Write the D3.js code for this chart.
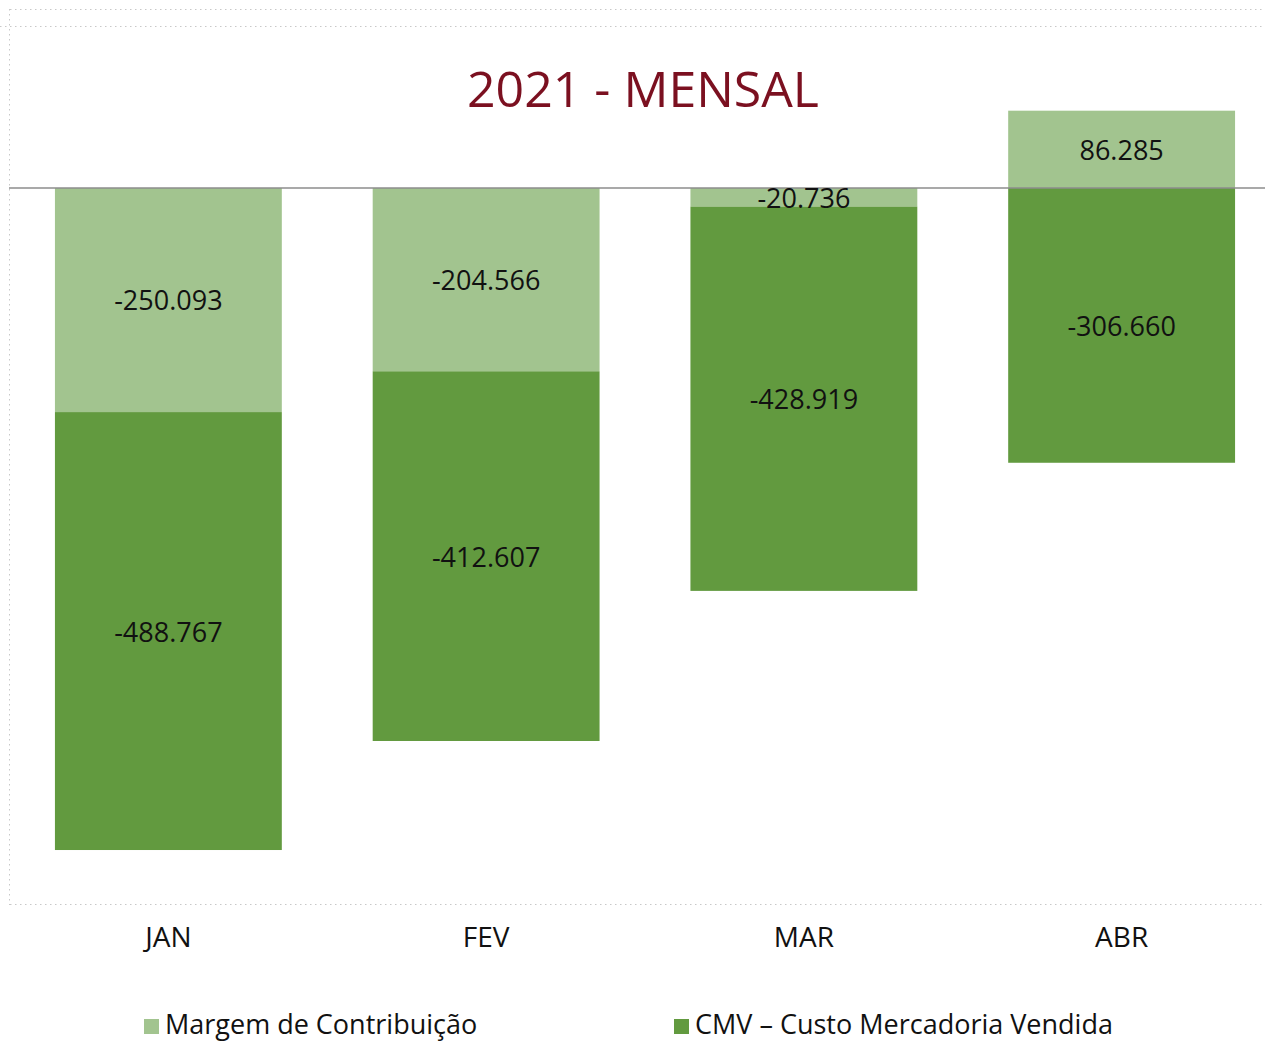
<!DOCTYPE html>
<html>
<head>
<meta charset="utf-8">
<script src="https://cdn.jsdelivr.net/npm/d3@7"></script>
<style>
  html, body { margin: 0; padding: 0; background: #ffffff; }
  svg { display: block; }
</style>
</head>
<body>
<svg id="chart" width="1265" height="1041"></svg>
<script>
const months = ["JAN", "FEV", "MAR", "ABR"];
const seriesNames = ["Margem de Contribuição", "CMV – Custo Mercadoria Vendida"];
const margem = [-250093, -204566, -20736, 86285];
const cmv = [-488767, -412607, -428919, -306660];
const chartTitle = "2021 - MENSAL";

const colors = ["#A2C48F", "#629A3F"];
const fmt = v => d3.format(",.0f")(v).replace(/,/g, ".").replace(/\u2212/g, "-");

const svg = d3.select("#chart");
const fontFam = "'Open Sans', 'Noto Sans', sans-serif";

const rows = months.map((m, i) => ({ month: m, margem: margem[i], cmv: cmv[i] }));
const keys = ["margem", "cmv"];
const stack = d3.stack().keys(keys).offset(d3.stackOffsetDiverging);
const stacked = stack(rows);

const x = d3.scaleBand().domain(months).range([9.5, 1280.5]).paddingInner(0.286).paddingOuter(0.143);
const y = d3.scaleLinear().domain([-600000, 100000]).range([725.6, 98.4]);

// dotted frames
const frame = svg.append("g").attr("stroke", "#c8c8c8").attr("stroke-width", 1).attr("stroke-dasharray", "1.5,3.5").attr("fill", "none");
frame.append("line").attr("x1", 10).attr("x2", 1265).attr("y1", 9.5).attr("y2", 9.5);
frame.append("line").attr("x1", 0).attr("x2", 1265).attr("y1", 26.5).attr("y2", 26.5);
frame.append("line").attr("x1", 9.5).attr("x2", 9.5).attr("y1", 9).attr("y2", 905);
frame.append("line").attr("x1", 10).attr("x2", 1265).attr("y1", 904.5).attr("y2", 904.5);

// bars
const layers = svg.append("g").selectAll("g").data(stacked).join("g")
  .attr("fill", (d, i) => colors[i]);
layers.selectAll("rect").data(d => d).join("rect")
  .attr("x", d => x(d.data.month))
  .attr("width", x.bandwidth())
  .attr("y", d => y(Math.max(d[0], d[1])))
  .attr("height", d => Math.abs(y(d[0]) - y(d[1])));

// zero line
svg.append("line").attr("x1", 9).attr("x2", 1265).attr("y1", y(0)).attr("y2", y(0))
  .attr("stroke", "#8c8c8c").attr("stroke-width", 1.3);

// labels
const lbl = svg.append("g").attr("font-family", fontFam).attr("font-size", 27).attr("fill", "#111").attr("text-anchor", "middle");
stacked.forEach((s, si) => {
  s.forEach(d => {
    const v = d.data[keys[si]];
    lbl.append("text")
      .attr("x", x(d.data.month) + x.bandwidth() / 2)
      .attr("y", (y(d[0]) + y(d[1])) / 2 + 1)
      .attr("dy", "0.35em")
      .text(fmt(v));
  });
});

// x axis labels
const xAxis = d3.axisBottom(x).tickSize(0).tickPadding(0);
const gx = svg.append("g").attr("transform", "translate(0,927)").call(xAxis);
gx.select(".domain").remove();
gx.selectAll("text").attr("font-family", fontFam).attr("font-size", 28).attr("fill", "#111").attr("dy", "0.71em");

// title
svg.append("text").attr("x", 643).attr("y", 107).attr("text-anchor", "middle")
  .attr("font-family", fontFam).attr("font-size", 50).attr("fill", "#7B1020").text(chartTitle);

// legend
const legendX = [144, 674];
seriesNames.forEach((n, i) => {
  const g = svg.append("g").attr("transform", `translate(${legendX[i]},1019)`);
  g.append("rect").attr("width", 15).attr("height", 15).attr("fill", colors[i]);
  g.append("text").attr("x", 21).attr("y", 15)
    .attr("font-family", fontFam).attr("font-size", 27).attr("fill", "#111").text(n);
});
</script>
</body>
</html>
